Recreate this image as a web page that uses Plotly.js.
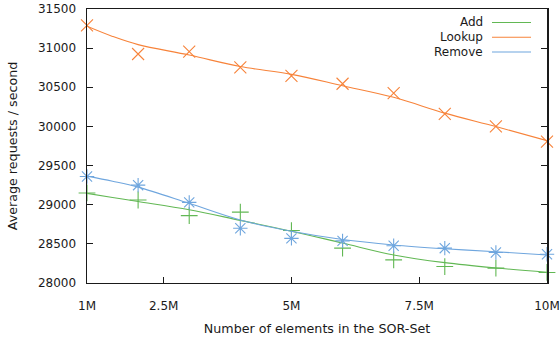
<!DOCTYPE html>
<html>
<head>
<meta charset="utf-8">
<script src="https://cdn.plot.ly/plotly-3.0.1.min.js"></script>
<style>html,body{margin:0;padding:0;background:#fff;}#chart{width:560px;height:337px;}</style>
</head>
<body>
<div id="chart"></div>
<script>
// Data (x in millions of elements)
const elements = [1, 2, 3, 4, 5, 6, 7, 8, 9, 10];
const addMeasured    = [29150, 29060, 28860, 28905, 28670, 28445, 28295, 28210, 28190, 28135];
const lookupMeasured = [31290, 30925, 30955, 30755, 30645, 30545, 30425, 30160, 30000, 29805];
const removeMeasured = [29360, 29250, 29030, 28700, 28570, 28538, 28475, 28445, 28390, 28367];
// Fitted curves
const fitElements    = [1, 1.5, 2, 3, 4, 5, 6, 7, 8, 9, 10];
const addFit         = [29145, 29092, 29040, 28935, 28800, 28662, 28510, 28358, 28260, 28192, 28138];
const lookupFit      = [31280, 31150, 31045, 30912, 30765, 30665, 30520, 30372, 30170, 29998, 29818];
const removeFit      = [29365, 29300, 29225, 29018, 28805, 28660, 28555, 28486, 28438, 28400, 28358];
const seriesNames = ['Add', 'Lookup', 'Remove'];
const seriesColors = ['#62b854', '#f7833a', '#6fa6de'];
const seriesSymbols = ['cross-thin-open', 'x-thin-open', 'asterisk-open'];
const xTickVals = [1, 2.5, 5, 7.5, 10];
const xTickText = ['1M', '2.5M', '5M', '7.5M', '10M'];
const yTickVals = [28000, 28500, 29000, 29500, 30000, 30500, 31000, 31500];

const measured = [addMeasured, lookupMeasured, removeMeasured];
const fits = [addFit, lookupFit, removeFit];

const traces = [];
for (let i = 0; i < 3; i++) {
  traces.push({
    x: fitElements, y: fits[i], type: 'scatter', mode: 'lines',
    line: {color: seriesColors[i], width: 1.1, shape: 'spline', smoothing: 1.0},
    name: seriesNames[i], showlegend: false, cliponaxis: false, hoverinfo: 'skip'
  });
  traces.push({
    x: elements, y: measured[i], type: 'scatter', mode: 'markers',
    marker: {symbol: seriesSymbols[i], size: 12, color: seriesColors[i], line: {color: seriesColors[i], width: 1.1}},
    showlegend: false, cliponaxis: false
  });
}

const L = 87, R = 547, T = 9, B = 283;
const px = v => (v - L) / (R - L);
const py = v => (B - v) / (B - T);
const legendRows = [22.5, 37.3, 52];
const annotations = [];
const shapes = [];
for (let i = 0; i < 3; i++) {
  annotations.push({
    xref: 'paper', yref: 'paper', x: px(485), y: py(legendRows[i]),
    xanchor: 'right', yanchor: 'middle', showarrow: false,
    text: seriesNames[i], font: {family: 'DejaVu Sans', size: 12, color: '#1a1a1a'}
  });
  shapes.push({
    type: 'line', xref: 'paper', yref: 'paper',
    x0: px(492), x1: px(531), y0: py(legendRows[i]), y1: py(legendRows[i]),
    line: {color: seriesColors[i], width: 1.1}
  });
}

const font = {family: 'DejaVu Sans', size: 12, color: '#1a1a1a'};
const titleFont = {family: 'DejaVu Sans', size: 12.7, color: '#1a1a1a'};
const layout = {
  width: 560, height: 337,
  margin: {l: L, r: 560 - R, t: T, b: 337 - B},
  paper_bgcolor: '#fff', plot_bgcolor: '#fff',
  font: font,
  showlegend: false,
  xaxis: {
    range: [1, 10], tickvals: xTickVals, ticktext: xTickText,
    ticks: 'inside', ticklen: 6, tickwidth: 1, tickcolor: '#1a1a1a',
    showline: true, linecolor: '#1a1a1a', linewidth: 1, mirror: true,
    showgrid: false, zeroline: false, ticklabelstandoff: 12,
    title: {text: 'Number of elements in the SOR-Set', font: titleFont, standoff: 11}
  },
  yaxis: {
    range: [28000, 31500], tickvals: yTickVals, tickformat: 'd',
    ticks: 'inside', ticklen: 6, tickwidth: 1, tickcolor: '#1a1a1a',
    showline: true, linecolor: '#1a1a1a', linewidth: 1.5, mirror: 'ticks',
    showgrid: false, zeroline: false, ticklabelstandoff: 7,
    title: {text: 'Average requests / second', font: titleFont, standoff: 17.5}
  },
  annotations: annotations,
  shapes: shapes
};

Plotly.newPlot('chart', traces, layout, {staticPlot: true, displayModeBar: false});
</script>
</body>
</html>
